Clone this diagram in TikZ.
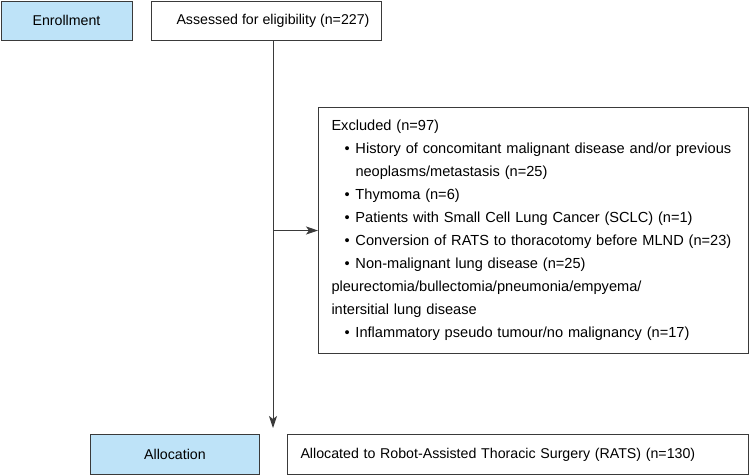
\documentclass[tikz,border=0pt]{standalone}
\usepackage{fontspec}
\setmainfont{Liberation Sans}
\usetikzlibrary{arrows.meta,calc}
\definecolor{stageblue}{HTML}{BEE3F8}
\definecolor{linegray}{HTML}{3A3A3A}
\tikzset{
  box/.style={draw=linegray, line width=1pt, inner sep=0pt, font=\fontsize{14.2}{16}\selectfont},
  stagebox/.style={box, fill=stageblue},
  conn/.style={draw=linegray, line width=1pt, -{Stealth[length=12pt,width=8pt,inset=3pt]}},
}
\newcommand{\bul}[1]{\hspace*{13pt}\makebox[11pt][l]{\textbullet}#1}
\newcommand{\cont}[1]{\hspace*{24pt}#1}
\begin{document}
\begin{tikzpicture}[x=1pt,y=-1pt]
\useasboundingbox (0,0) rectangle (750,475);
\node[stagebox, anchor=north west, minimum width=131pt, minimum height=39pt] (enr) at (0.5,0.5) {Enrollment};
\node[box, anchor=north west, minimum width=230pt, minimum height=39pt] (assess) at (150.5,0.5) {\hspace*{14pt}Assessed for eligibility (n=227)};
\node[box, anchor=north west, minimum width=430pt, minimum height=246pt, text width=404pt, inner xsep=13pt, align=left,
      font=\fontsize{14.6}{23}\selectfont] (excl) at (318,107) {%
Excluded (n=97)\\
\bul{History of concomitant malignant disease and/or previous}\\
\cont{neoplasms/metastasis (n=25)}\\
\bul{Thymoma (n=6)}\\
\bul{Patients with Small Cell Lung Cancer (SCLC) (n=1)}\\
\bul{Conversion of RATS to thoracotomy before MLND (n=23)}\\
\bul{Non-malignant lung disease (n=25)}\\
pleurectomia/bullectomia/pneumonia/empyema/\\
intersitial lung disease\\
\bul{Inflammatory pseudo tumour/no malignancy (n=17)}};
\node[stagebox, anchor=north west, minimum width=169pt, minimum height=40pt] (alloc) at (90,434) {Allocation};
\node[box, anchor=north west, minimum width=461pt, minimum height=40pt, text width=435pt, inner xsep=13pt, align=left] (rats) at (287,434) {Allocated to Robot-Assisted Thoracic Surgery (RATS) (n=130)};
\coordinate (tip) at (273,428);
\draw[conn] (tip |- assess.south) -- (tip);
\draw[conn] (tip |- excl.west) -- (excl.west);
\end{tikzpicture}
\end{document}
